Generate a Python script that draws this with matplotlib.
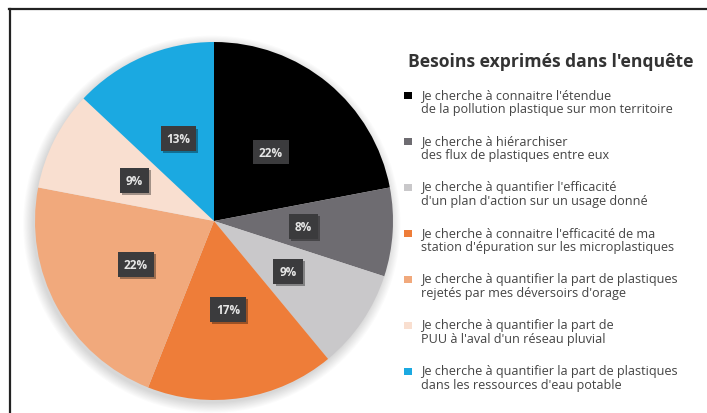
import numpy as np
import matplotlib.pyplot as plt
import matplotlib.patheffects as pe
from matplotlib.patches import Rectangle, Circle
from matplotlib.lines import Line2D

# données de l'enquête
parts = [22, 8, 9, 17, 22, 9, 13]
couleurs = ['#000000', '#6e6c71', '#c9c8ca', '#ee7d39', '#f1a97c', '#f9dfd0', '#1ba9e1']
besoins = [
    "Je cherche à connaitre l'étendue\nde la pollution plastique sur mon territoire",
    "Je cherche à hiérarchiser\ndes flux de plastiques entre eux",
    "Je cherche à quantifier l'efficacité\nd'un plan d'action sur un usage donné",
    "Je cherche à connaitre l'efficacité de ma\nstation d'épuration sur les microplastiques",
    "Je cherche à quantifier la part de plastiques\nrejetés par mes déversoirs d'orage",
    "Je cherche à quantifier la part de\nPUU à l'aval d'un réseau pluvial",
    "Je cherche à quantifier la part de plastiques\ndans les ressources d'eau potable",
]
titre = "Besoins exprimés dans l'enquête"

plt.rcParams['font.family'] = ['Open Sans', 'DejaVu Sans']

W, H = 707, 414
fig = plt.figure(figsize=(W / 100, H / 100), dpi=100)
fig.patch.set_facecolor('white')

# cadre (haut + gauche)
fig.add_artist(Line2D([9 / W, 1], [1 - 9.5 / H, 1 - 9.5 / H], color='#222222', lw=1.6))
fig.add_artist(Line2D([9.5 / W, 9.5 / W], [0, 1 - 9.5 / H], color='#222222', lw=1.6))

# camembert
cx, cy, r = 214, 222, 179
ax = fig.add_axes([(cx - r) / W, (H - cy - r) / H, 2 * r / W, 2 * r / H])
ax.axis('off')

wedges, textes = ax.pie(parts, colors=couleurs, startangle=90, counterclock=False,
                        radius=1, wedgeprops=dict(linewidth=0))
ax.set_xlim(-1, 1)
ax.set_ylim(-1, 1)
for w in wedges:
    w.set_zorder(1)

# ombre douce
for i in range(10):
    ax.add_patch(Circle((-0.012, -0.018), 1.0 + i * 0.006, color='#000000',
                        alpha=0.016, lw=0, zorder=0, clip_on=False))

for w, p in zip(wedges, parts):
    ang = np.deg2rad((w.theta1 + w.theta2) / 2)
    x, y = 0.5 * np.cos(ang), 0.5 * np.sin(ang)
    t = ax.text(x, y, f"{p}%", ha='center', va='center', fontsize=8.5, fontweight='bold',
                color='#e6e6e6', zorder=3,
                bbox=dict(boxstyle='square,pad=0.5', fc='#3b3b3d', ec='none'))
    t.get_bbox_patch().set_path_effects(
        [pe.SimplePatchShadow(offset=(1.5, -1.5), shadow_rgbFace='black', alpha=0.35),
         pe.Normal()])

# légende
fig.text(408 / W, 1 - 62 / H, titre, fontsize=12.6, fontweight='bold', color='#333333',
         ha='left', va='center')
y0, dy = 96, 46
for i, (lab, c) in enumerate(zip(besoins, couleurs)):
    y = y0 + i * dy
    fig.add_artist(Rectangle((404 / W, 1 - (y + 4) / H), 7.5 / W, 7.5 / H,
                             transform=fig.transFigure, fc=c, ec='none'))
    fig.text(421 / W, 1 - (y + 7) / H, lab, fontsize=9.1, color='#444444',
             ha='left', va='center', linespacing=1.1)

fig.savefig('out.png', dpi=100, facecolor='white')
